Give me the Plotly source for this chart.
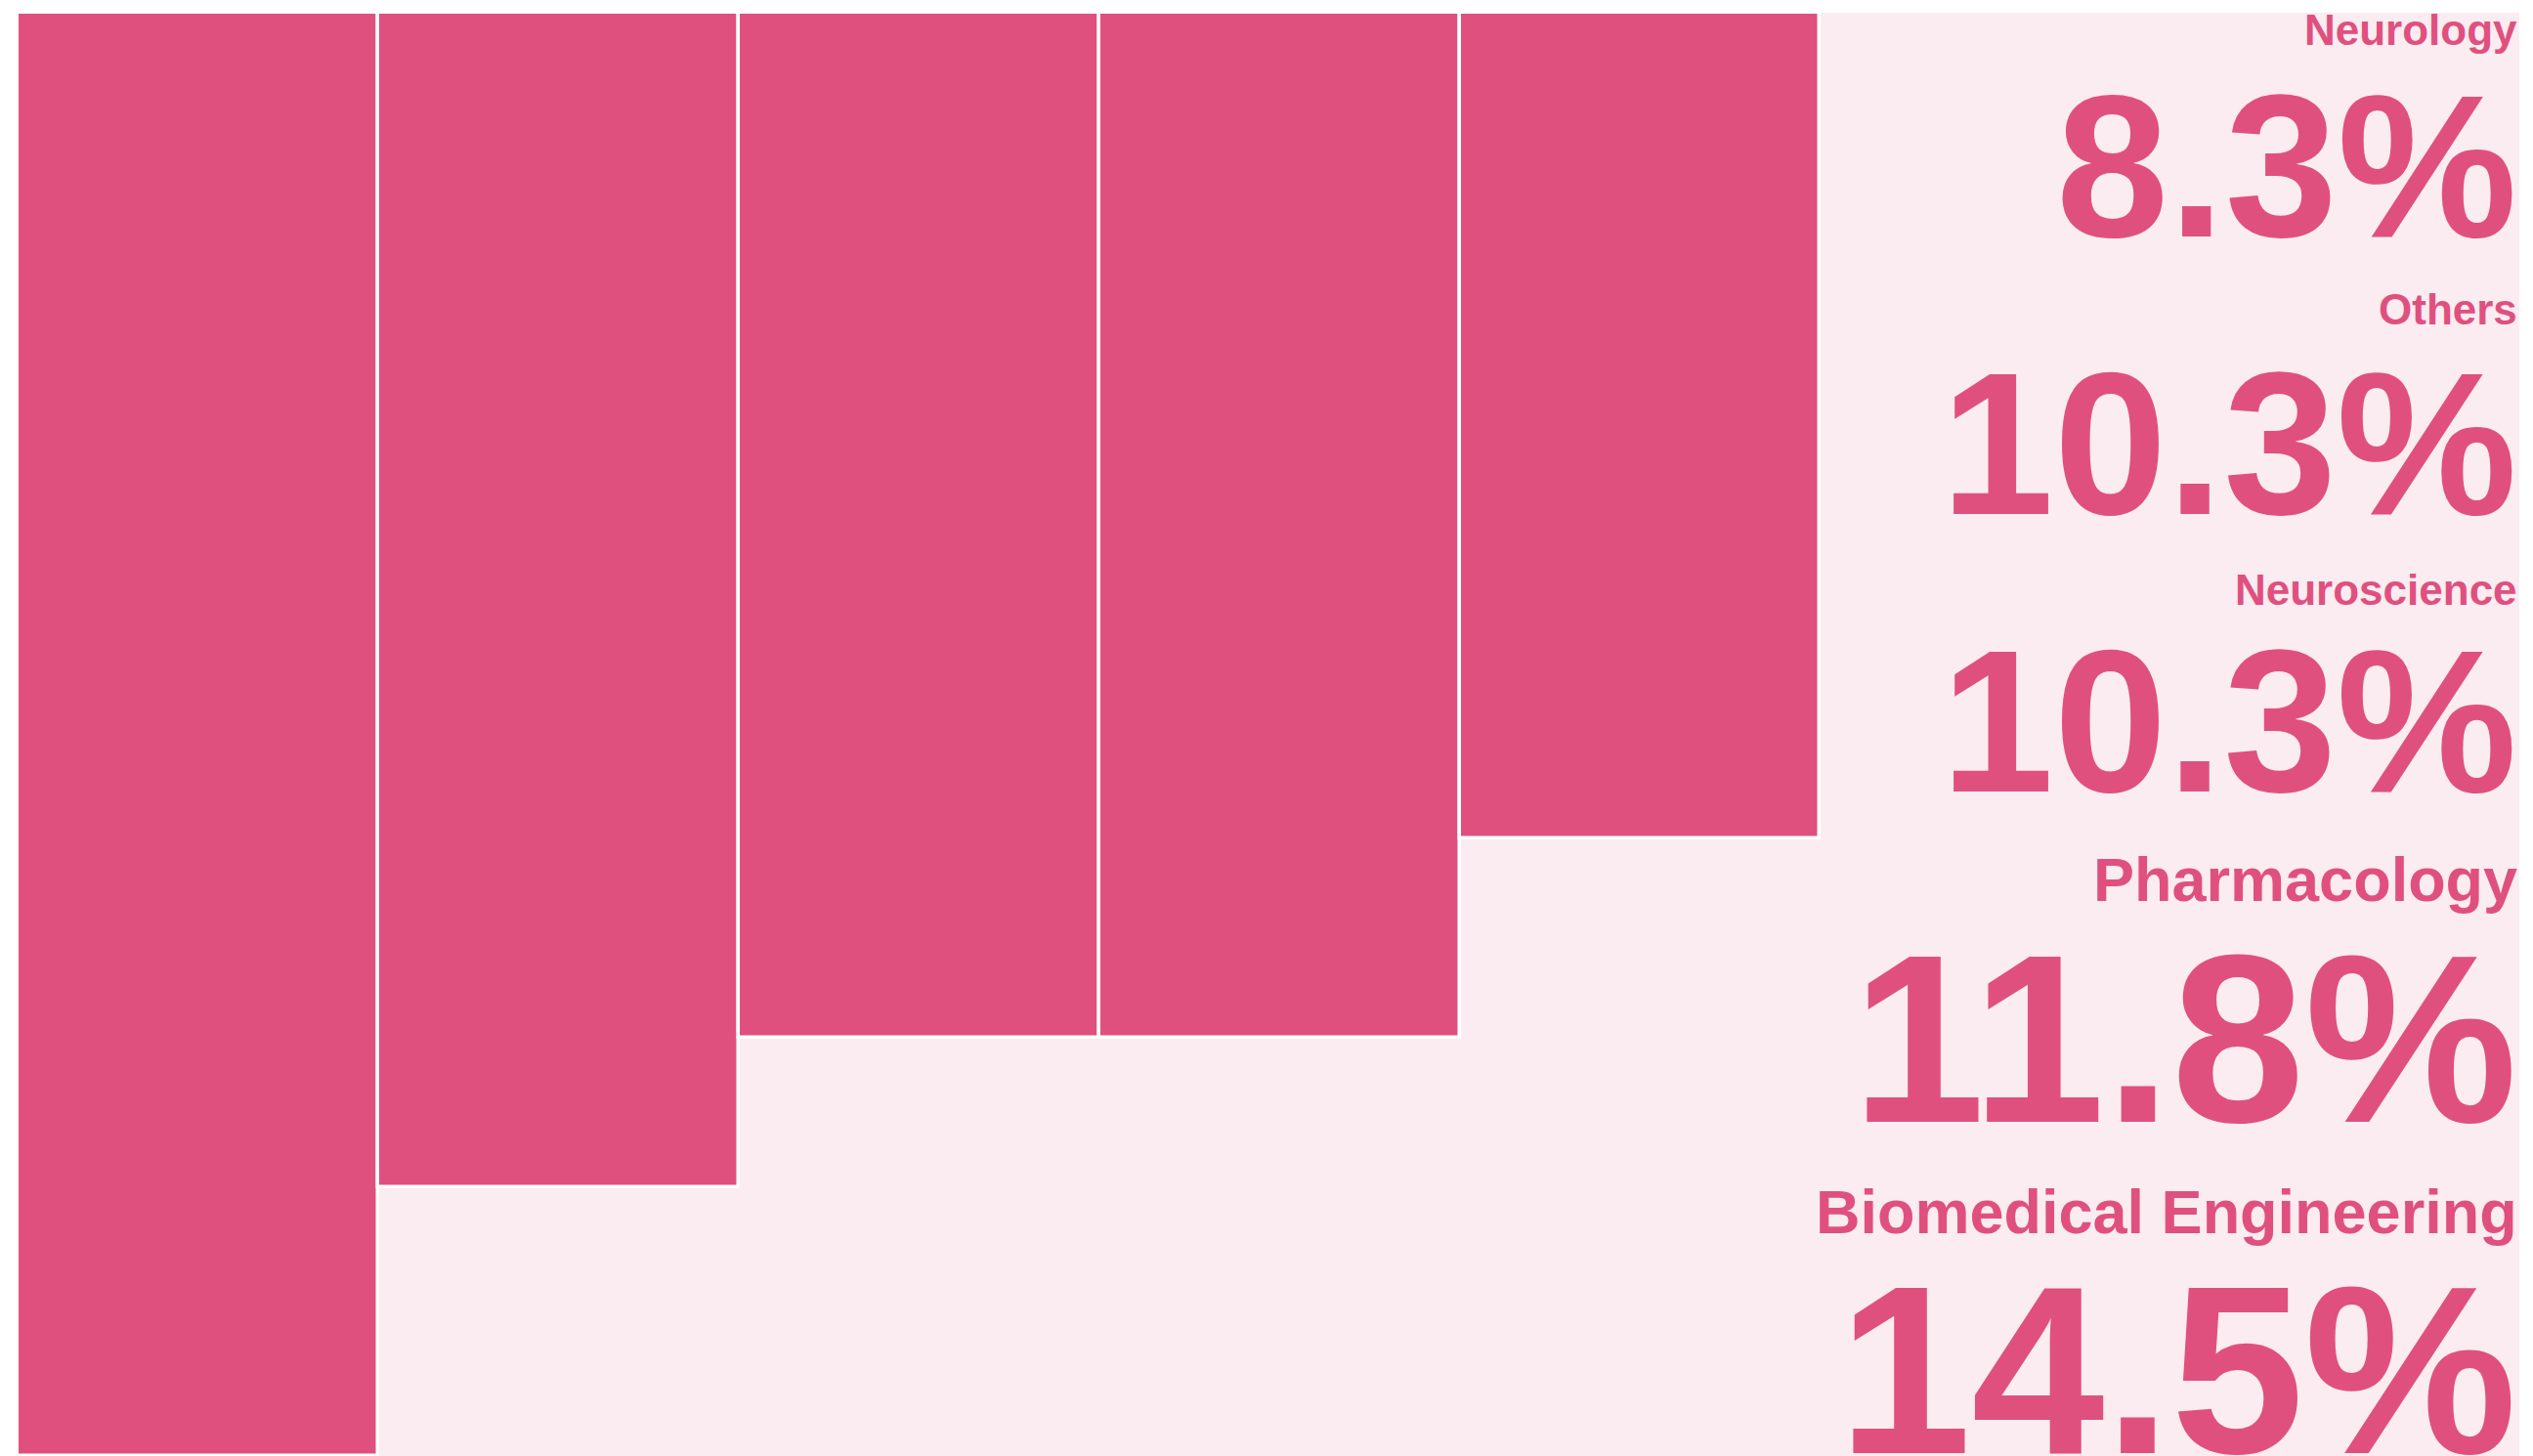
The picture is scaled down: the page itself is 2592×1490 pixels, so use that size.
import plotly.graph_objects as go

# Share of publications by field (percent), largest first
categories = ["Biomedical Engineering", "Pharmacology", "Neuroscience", "Others", "Neurology"]
shares = [14.5, 11.8, 10.3, 10.3, 8.3]

PINK = "#E0507F"
BG = "#FBECF1"

W, H = 2592, 1490
M_L, M_R, M_T, M_B = 18, 14, 13, 0
plot_h = H - M_T - M_B

fig = go.Figure(
    go.Bar(
        x=categories,
        y=shares,
        marker=dict(color=PINK, line=dict(color="white", width=3.5)),
        hoverinfo="x+y",
    )
)

# Right-hand key: field name above its share, smallest share at the top.
# (centre of label caps, label size, centre of number caps, number size) in px
key_style = {
    "Neurology": (30, 44, 170, 207),
    "Others": (317, 44, 454, 208),
    "Neuroscience": (603, 44, 738, 208),
    "Pharmacology": (900, 63, 1063, 245),
    "Biomedical Engineering": (1240, 63, 1402, 245),
}


def to_paper(y_px):
    return (H - M_B - y_px) / plot_h


annotations = []
for name, value in sorted(zip(categories, shares), key=lambda p: p[1]):
    ly, lsize, ny, nsize = key_style[name]
    annotations.append(dict(
        text=name, x=1.0, y=to_paper(ly), xref="paper", yref="paper",
        xanchor="right", yanchor="middle", showarrow=False,
        font=dict(family="Liberation Sans, Arial, Helvetica, sans-serif",
                  size=lsize, color=PINK, weight="bold"),
    ))
    annotations.append(dict(
        text=f"{value:.1f}%", x=1.0, y=to_paper(ny), xref="paper", yref="paper",
        xanchor="right", yanchor="middle", showarrow=False,
        font=dict(family="Liberation Sans, Arial, Helvetica, sans-serif",
                  size=nsize, color=PINK, weight="bold"),
    ))

fig.update_layout(
    width=W,
    height=H,
    margin=dict(l=M_L, r=M_R, t=M_T, b=M_B, pad=0),
    paper_bgcolor="white",
    plot_bgcolor=BG,
    bargap=0,
    showlegend=False,
    annotations=annotations,
    xaxis=dict(visible=False, type="category", range=[-0.5, 6.44]),
    yaxis=dict(visible=False, range=[14.5, 0], autorange=False),
)

fig.write_html("out.html")
